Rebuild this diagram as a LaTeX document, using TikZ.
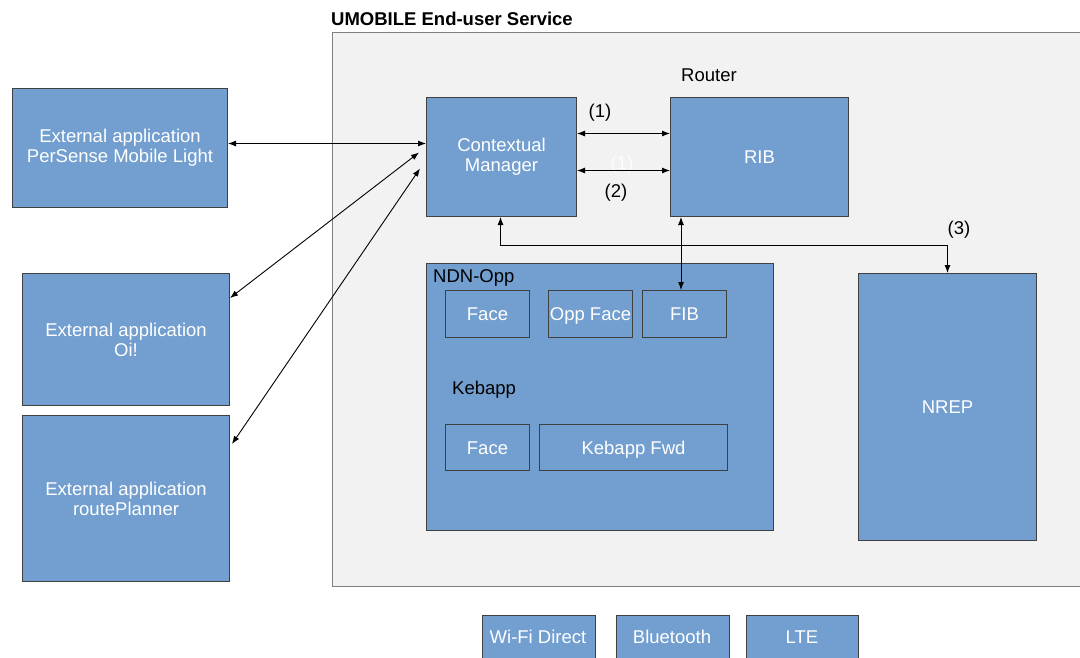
\documentclass[tikz,border=0pt]{standalone}
\usepackage{fontspec}
\setmainfont{Liberation Sans}
\usetikzlibrary{arrows.meta,calc}
\definecolor{boxblue}{RGB}{114,159,207}
\definecolor{framefill}{RGB}{242,242,242}
\definecolor{framedraw}{RGB}{128,128,128}
\definecolor{boxdraw}{RGB}{64,64,64}
\begin{document}
\begin{tikzpicture}[x=1pt,y=-1pt,
  every node/.style={font=\fontsize{18.5}{20}\selectfont},
  bluebox/.style={draw=boxdraw,line width=1pt,fill=boxblue,text=white,inner sep=0pt,
    anchor=north west,align=center},
  onebox/.style={bluebox,text height=13.5pt,text depth=0.5pt},
  biarr/.style={draw=black,line width=0.9pt,{Latex[length=8pt,width=6pt]}-{Latex[length=8pt,width=6pt]}},
  lbl/.style={text=black,inner sep=0pt}]
\useasboundingbox (0,0) rectangle (1080,657);
\clip (0,0) rectangle (1080,657);
% frame
\draw[draw=framedraw,fill=framefill,line width=1pt] (332,32) rectangle (1095,586);
\node[lbl,anchor=west,font=\bfseries\fontsize{18.5}{20}\selectfont] (title) at (331,19) {UMOBILE End-user Service};
\node[lbl] (router) at (709,75) {Router};
% boxes
\node[bluebox,minimum width=150pt,minimum height=119pt] (cm) at (426,97) {Contextual\\Manager};
\node[onebox,minimum width=178pt,minimum height=119pt] (rib) at (670,97) {RIB};
\node[bluebox,minimum width=215pt,minimum height=119pt] (ps) at (12,88) {External application\\PerSense Mobile Light};
\node[bluebox,minimum width=207pt,minimum height=132pt] (oi) at (22,273) {External application\\Oi!};
\node[bluebox,minimum width=207pt,minimum height=166pt] (rp) at (22,415) {External application\\routePlanner};
\node[bluebox,minimum width=347pt,minimum height=267pt] (ndn) at (426,263) {};
\node[lbl,anchor=west] (ndnl) at (433,278) {NDN-Opp};
\node[onebox,minimum width=84pt,minimum height=47pt] (face1) at (445,290) {Face};
\node[onebox,minimum width=84pt,minimum height=47pt] (oppface) at (548,290) {Opp Face};
\node[onebox,minimum width=84pt,minimum height=47pt] (fib) at (642,290) {FIB};
\node[lbl,anchor=west] (kebl) at (452,390) {Kebapp};
\node[onebox,minimum width=84pt,minimum height=46pt] (face2) at (445,424) {Face};
\node[onebox,minimum width=188pt,minimum height=46pt] (kfwd) at (539,424) {Kebapp Fwd};
\node[onebox,minimum width=178pt,minimum height=267pt] (nrep) at (858,273) {NREP};
\node[bluebox,minimum width=113pt,minimum height=60pt] (wifi) at (482,615) {};
\node[text=white] (wifit) at (538,637) {Wi-Fi Direct};
\node[bluebox,minimum width=113pt,minimum height=60pt] (bt) at (616,615) {};
\node[text=white] (btt) at (672,637) {Bluetooth};
\node[bluebox,minimum width=112pt,minimum height=60pt] (lte) at (746,615) {};
\node[text=white] (ltet) at (802,637) {LTE};
% labels
\node[lbl] (l1) at (600,113) {(1)};
\node[lbl,text=white,opacity=0.85] (l1b) at (622,165) {(1)};
\node[lbl] (l2) at (616,193) {(2)};
\node[lbl] (l3) at (959,230) {(3)};
% connectors
\draw[biarr] ($(cm.east)+(0,-23.5)$) -- ($(rib.west)+(0,-23.5)$);
\draw[biarr] ($(cm.east)+(0,13.5)$) -- ($(rib.west)+(0,13.5)$);
\draw[biarr] ($(ps.east)+(0,-4.5)$) -- ($(cm.west)+(0,-13.5)$);
\draw[biarr] ($(oi.north east)+(0,25)$) -- ($(cm.west)+(-7,-4.5)$);
\draw[biarr] ($(rp.north east)+(2,29)$) -- ($(cm.west)+(-6,11.5)$);
\draw[biarr] ($(rib.south west)+(11,0)$) -- ($(fib.north west)+(39,0)$);
\draw[biarr] ($(cm.south)+(-1,0)$) -- ++(0,28) -| (nrep.north);
\end{tikzpicture}
\end{document}
